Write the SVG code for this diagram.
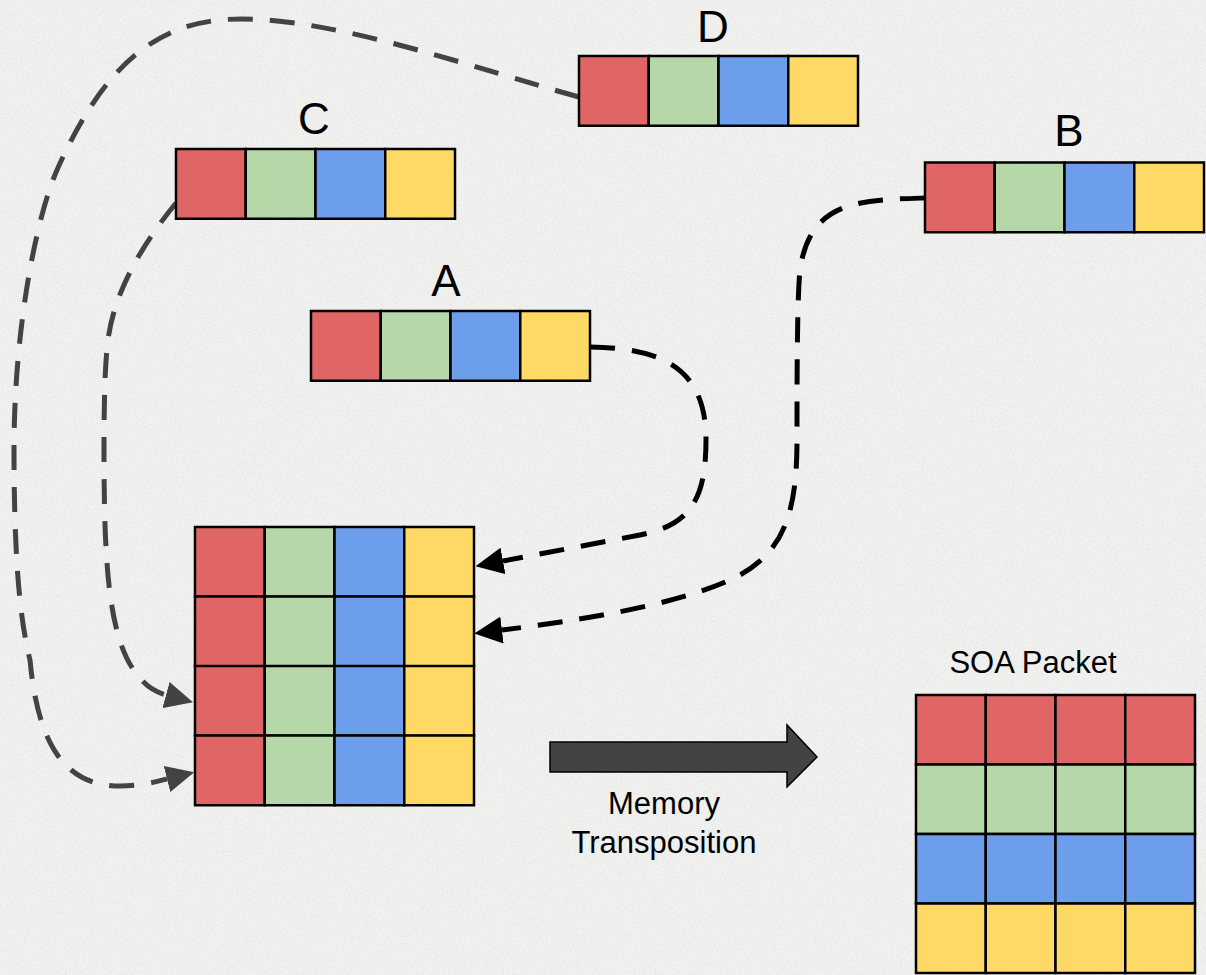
<svg xmlns="http://www.w3.org/2000/svg" width="1206" height="975" viewBox="0 0 1206 975">
  <style>
    .r { fill: #e06666; }
    .g { fill: #b6d7a8; }
    .b { fill: #6d9eeb; }
    .y { fill: #ffd966; }
    .cell { stroke: #000; stroke-width: 2.5; }
    .lbl { font-family: "Liberation Sans", Arial, sans-serif; font-size: 44px; fill: #000; text-anchor: middle; }
    .cap { font-family: "Liberation Sans", Arial, sans-serif; font-size: 31px; fill: #000; text-anchor: middle; }
    .dash { fill: none; stroke-width: 5; stroke-dasharray: 25 17; }
    .dk { stroke: #000; }
    .gy { stroke: #434343; }
  </style>
  <defs>
    <filter id="paper" x="0" y="0" width="100%" height="100%">
      <feTurbulence type="fractalNoise" baseFrequency="0.9" numOctaves="3" seed="4" result="n"/>
      <feColorMatrix in="n" type="matrix" values="0 0 0 0 0.55  0 0 0 0 0.55  0 0 0 0 0.54  0 0 0 -1.6 0.95"/>
    </filter>
    <marker id="headK" markerUnits="userSpaceOnUse" markerWidth="28" markerHeight="27" viewBox="0 0 28 27" refX="0" refY="13.5" orient="auto">
      <path d="M0,0 L28,13.5 L0,27 z" fill="#000"/>
    </marker>
    <marker id="headG" markerUnits="userSpaceOnUse" markerWidth="28" markerHeight="27" viewBox="0 0 28 27" refX="0" refY="13.5" orient="auto">
      <path d="M0,0 L28,13.5 L0,27 z" fill="#434343"/>
    </marker>
    <!-- one record: four fields in a row -->
    <g id="record">
      <rect class="cell r" x="0" y="0" width="69.75" height="69.75"/>
      <rect class="cell g" x="69.75" y="0" width="69.75" height="69.75"/>
      <rect class="cell b" x="139.5" y="0" width="69.75" height="69.75"/>
      <rect class="cell y" x="209.25" y="0" width="69.75" height="69.75"/>
    </g>
    <!-- one field repeated across a row -->
    <g id="rowR"><rect class="cell r" x="0" y="0" width="69.75" height="69.5"/><rect class="cell r" x="69.75" y="0" width="69.75" height="69.5"/><rect class="cell r" x="139.5" y="0" width="69.75" height="69.5"/><rect class="cell r" x="209.25" y="0" width="69.75" height="69.5"/></g>
    <g id="rowG"><rect class="cell g" x="0" y="0" width="69.75" height="69.5"/><rect class="cell g" x="69.75" y="0" width="69.75" height="69.5"/><rect class="cell g" x="139.5" y="0" width="69.75" height="69.5"/><rect class="cell g" x="209.25" y="0" width="69.75" height="69.5"/></g>
    <g id="rowB"><rect class="cell b" x="0" y="0" width="69.75" height="69.5"/><rect class="cell b" x="69.75" y="0" width="69.75" height="69.5"/><rect class="cell b" x="139.5" y="0" width="69.75" height="69.5"/><rect class="cell b" x="209.25" y="0" width="69.75" height="69.5"/></g>
    <g id="rowY"><rect class="cell y" x="0" y="0" width="69.75" height="69.5"/><rect class="cell y" x="69.75" y="0" width="69.75" height="69.5"/><rect class="cell y" x="139.5" y="0" width="69.75" height="69.5"/><rect class="cell y" x="209.25" y="0" width="69.75" height="69.5"/></g>
  </defs>

  <!-- paper background -->
  <rect x="0" y="0" width="1206" height="975" fill="#f2f2f1"/>
  <rect x="0" y="0" width="1206" height="975" filter="url(#paper)" opacity="0.4"/>

  <!-- connectors -->
  <g id="connectors">
    <path id="edge-A" class="dash dk" marker-end="url(#headK)" d="M590,347 C665,348 706,370 706,440 C706,500 690,525 640,535 L503,561"/>
    <path id="edge-B" class="dash dk" marker-end="url(#headK)" d="M925,198 C860,200 810,200 800,270 C797,300 797,380 797,440 C797,510 785,550 740,575 C712,590 650,612 502,630"/>
    <path id="edge-C" class="dash gy" marker-end="url(#headG)" d="M176,203 C150,235 115,285 108,340 C104.5,367 104,410 104,450 C104,560 108,635 135,672 C145,686 155,692 166,695"/>
    <path id="edge-D" class="dash gy" marker-end="url(#headG)" d="M579,97 C480,70 340,19 241,19 C170,19 110,50 57,170 C36,218 14,330 14,450 C14,560 20,620 30,660 C38,745 65,786 120,786 C140,786 155,782 167,779"/>
  </g>

  <!-- records -->
  <g id="node-D">
    <use href="#record" x="579" y="56"/>
    <text class="lbl" x="713" y="42">D</text>
  </g>
  <g id="node-C">
    <use href="#record" x="176" y="149"/>
    <text class="lbl" x="314" y="134">C</text>
  </g>
  <g id="node-B">
    <use href="#record" x="925" y="162.5"/>
    <text class="lbl" x="1069" y="146">B</text>
  </g>
  <g id="node-A">
    <use href="#record" x="311" y="311"/>
    <text class="lbl" x="446" y="296">A</text>
  </g>

  <!-- gathered records, one per row -->
  <g id="node-aos">
    <use href="#record" x="195" y="527"/>
    <use href="#record" x="195" y="596.5"/>
    <use href="#record" x="195" y="666"/>
    <use href="#record" x="195" y="735.5"/>
  </g>

  <!-- transposition arrow -->
  <g id="node-transpose">
    <path d="M550,742 L787,742 L787,725 L817,757 L787,787 L787,772 L550,772 z" fill="#434343" stroke="#000" stroke-width="1.5"/>
    <text class="cap" x="664" y="814">Memory</text>
    <text class="cap" x="664" y="853">Transposition</text>
  </g>

  <!-- SOA packet -->
  <g id="node-soa">
    <text class="cap" x="1033" y="673">SOA Packet</text>
    <use href="#rowR" x="916" y="695"/>
    <use href="#rowG" x="916" y="764.5"/>
    <use href="#rowB" x="916" y="834"/>
    <use href="#rowY" x="916" y="903.5"/>
  </g>
</svg>
